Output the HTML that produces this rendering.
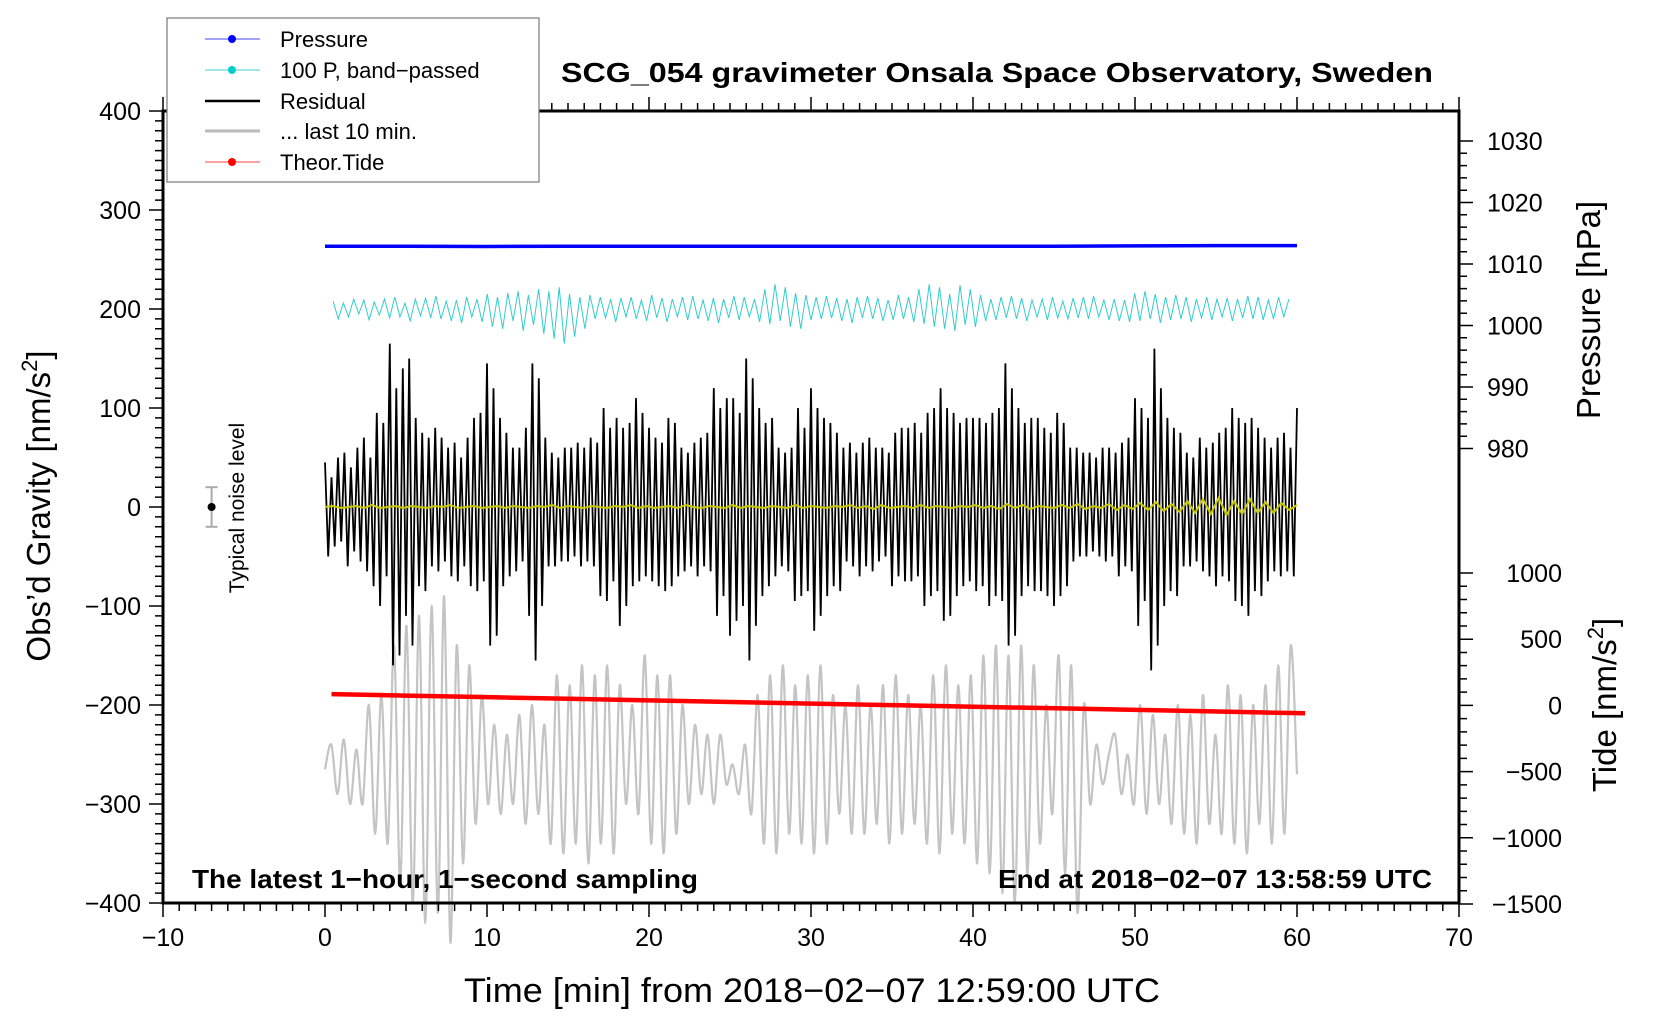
<!DOCTYPE html>
<html><head><meta charset="utf-8"><style>
html,body{margin:0;padding:0;background:#fff;}
svg{display:block;font-family:"Liberation Sans",Arial,sans-serif;}
</style></head><body>
<svg id="chart" width="1660" height="1020" viewBox="0 0 1660 1020">
<g id="marks"></g>
<g id="axes"></g>
<text x="997" y="82" font-size="28" font-weight="bold" text-anchor="middle" textLength="872" lengthAdjust="spacingAndGlyphs">SCG_054 gravimeter Onsala Space Observatory, Sweden</text>
<text x="192" y="888" font-size="26" font-weight="bold" textLength="506" lengthAdjust="spacingAndGlyphs">The latest 1−hour, 1−second sampling</text>
<text x="1432" y="888" font-size="26" font-weight="bold" text-anchor="end" textLength="434" lengthAdjust="spacingAndGlyphs">End at 2018−02−07 13:58:59 UTC</text>
<text x="812" y="1002" font-size="34" text-anchor="middle" textLength="696" lengthAdjust="spacingAndGlyphs">Time [min] from 2018−02−07 12:59:00 UTC</text>
<text transform="translate(50,506) rotate(-90)" font-size="33" text-anchor="middle">Obs’d Gravity [nm/s<tspan font-size="22" dy="-13">2</tspan><tspan dy="13">]</tspan></text>
<text transform="translate(1600,310) rotate(-90)" font-size="33" text-anchor="middle">Pressure [hPa]</text>
<text transform="translate(1616,705) rotate(-90)" font-size="33" text-anchor="middle">Tide [nm/s<tspan font-size="22" dy="-13">2</tspan><tspan dy="13">]</tspan></text>
<text transform="translate(244,508) rotate(-90)" font-size="21" text-anchor="middle">Typical noise level</text>
<g>
<rect x="167" y="18" width="372" height="164" fill="#fff" stroke="#777" stroke-width="1.2"/>
<g><line x1="205" y1="39" x2="260" y2="39" stroke="#44f" stroke-width="1"/><circle cx="232" cy="39" r="4" fill="#00f"/><text x="280" y="47" font-size="22">Pressure</text></g>
<g><line x1="205" y1="70" x2="260" y2="70" stroke="#4cc" stroke-width="1"/><circle cx="232" cy="70" r="4" fill="#0cc"/><text x="280" y="78" font-size="22">100 P, band−passed</text></g>
<g><line x1="205" y1="101" x2="260" y2="101" stroke="#000" stroke-width="2.5"/><text x="280" y="109" font-size="22">Residual</text></g>
<g><line x1="205" y1="131" x2="260" y2="131" stroke="#bbb" stroke-width="3"/><text x="280" y="139" font-size="22">... last 10 min.</text></g>
<g><line x1="205" y1="162" x2="260" y2="162" stroke="#f44" stroke-width="1"/><circle cx="232" cy="162" r="4" fill="#f00"/><text x="280" y="170" font-size="22">Theor.Tide</text></g>
</g>
</svg>
<script>
const xTicks=[-10,0,10,20,30,40,50,60,70];
const gravTicks=[400,300,200,100,0,-100,-200,-300,-400];
const pressTicks=[1030,1020,1010,1000,990,980];
const tideTicks=[1000,500,0,-500,-1000,-1500];
const pressure=[1012.9,1012.9,1012.85,1012.9,1012.9,1012.9,1012.9,1012.9,1012.9,1012.9,1012.95,1013.0,1013.0];
const tide=[85,73,61,49,37,25,13,1,-11,-23,-35,-47,-60];
const noiseBar=[-20,0,20];
const residual=[45,-50,30,-40,50,-35,55,-60,40,-45,60,-55,70,-65,50,-80,95,-100,85,-70,165,-160,120,-150,140,-110,150,-140,90,-80,75,-85,70,-60,80,-65,70,-55,60,-70,65,-75,50,-60,70,-80,90,-85,95,-75,145,-140,120,-130,90,-80,75,-70,60,-65,60,-55,80,-110,145,-155,130,-100,70,-60,55,-60,50,-55,60,-55,60,-50,65,-60,60,-55,70,-60,65,-90,100,-95,80,-75,90,-120,80,-100,85,-80,110,-75,95,-70,80,-75,70,-80,65,-85,90,-80,85,-70,60,-65,55,-60,65,-70,70,-60,75,-65,120,-110,100,-90,110,-130,110,-115,95,-100,150,-155,130,-120,100,-90,85,-80,90,-70,60,-60,55,-65,60,-95,100,-90,80,-85,120,-125,100,-110,90,-90,85,-80,75,-85,60,-55,65,-60,55,-70,65,-60,70,-65,60,-55,60,-50,55,-80,75,-70,80,-75,80,-75,85,-70,75,-100,95,-90,100,-85,120,-115,100,-110,95,-90,85,-80,90,-75,90,-85,90,-80,85,-100,95,-90,100,-95,145,-140,120,-130,100,-90,85,-80,90,-85,90,-85,80,-90,75,-100,95,-90,85,-80,60,-55,60,-50,55,-50,55,-45,50,-50,60,-55,60,-50,55,-70,65,-60,70,-65,110,-120,100,-95,90,-165,160,-140,120,-100,90,-85,80,-90,75,-60,55,-60,50,-55,70,-65,60,-70,65,-80,75,-70,80,-75,100,-95,90,-100,85,-110,90,-85,80,-90,70,-75,60,-65,70,-70,75,-65,60,-70,100];
const smoothed=[0,1,-1,0,1,-1,2,-1,0,1,-1,1,0,-1,1,0,2,-1,0,1,-1,0,1,-1,1,0,-1,1,0,2,-1,1,0,-1,1,0,-1,1,0,2,-1,1,-1,0,1,-1,2,0,-1,1,0,-1,2,-1,1,0,-1,1,0,-1,2,-1,1,0,-1,1,0,2,-1,1,-2,2,-1,0,1,-1,2,-1,1,0,-1,1,0,2,-1,1,-2,3,-1,2,-2,1,0,-1,2,-1,3,-2,1,-1,3,-3,2,-2,4,-3,5,-4,3,-5,6,-6,8,-7,9,-8,6,-7,8,-6,5,-6,4,-3,2];
const bandPassPa=[8,-10,6,-8,10,-5,9,-11,7,-6,10,-9,12,-8,6,-12,10,-7,11,-9,13,-10,8,-12,9,-14,12,-8,10,-13,15,-18,12,-20,16,-12,18,-22,14,-16,20,-25,18,-30,22,-35,15,-28,12,-20,14,-10,12,-9,10,-13,11,-8,12,-10,9,-12,14,-9,11,-13,10,-8,12,-11,13,-10,9,-12,11,-14,10,-9,13,-11,12,-8,10,-13,20,-15,25,-12,22,-18,16,-20,14,-11,12,-10,13,-9,11,-12,10,-14,12,-9,13,-10,11,-12,9,-11,14,-10,12,-13,20,-15,25,-18,22,-20,15,-22,24,-16,20,-18,14,-12,10,-11,12,-9,13,-10,11,-12,9,-8,10,-11,12,-9,8,-10,11,-9,12,-10,13,-8,9,-11,10,-12,9,-13,16,-12,18,-10,15,-14,12,-11,14,-10,12,-13,10,-9,12,-11,10,-8,11,-12,10,-9,13,-10,12,-11,9,-10,12,-8,10];
const lastTen=[-265,-240,-290,-235,-300,-245,-300,-200,-330,-190,-340,-140,-380,-120,-400,-110,-420,-100,-410,-90,-440,-140,-360,-160,-320,-190,-300,-220,-310,-230,-300,-210,-320,-200,-310,-220,-340,-170,-350,-180,-340,-160,-360,-170,-340,-160,-350,-180,-300,-200,-310,-150,-340,-170,-350,-170,-330,-200,-300,-220,-290,-230,-300,-230,-280,-260,-290,-240,-310,-190,-340,-170,-350,-160,-330,-180,-340,-170,-350,-160,-340,-190,-310,-200,-330,-180,-330,-200,-320,-180,-340,-170,-330,-190,-320,-200,-340,-170,-350,-160,-330,-180,-340,-170,-360,-150,-370,-140,-390,-150,-400,-140,-370,-160,-340,-200,-310,-150,-370,-160,-410,-200,-300,-240,-280,-250,-230,-290,-250,-300,-200,-310,-210,-300,-230,-320,-200,-330,-210,-340,-190,-320,-230,-330,-180,-340,-190,-350,-200,-320,-180,-340,-160,-330,-140,-270];

const NS='http://www.w3.org/2000/svg';
const X0=163,X1=1459,Y0=111,Y1=903;
function xs(t){return X0+(t+10)*(X1-X0)/80;}
function yg(g){return Y0+(400-g)*(Y1-Y0)/800;}
function yp(p){return 264-(p-1010)*6.15;}
function yt(v){return 705.4-v*0.1324;}
const marks=document.getElementById('marks');
const axes=document.getElementById('axes');
function mk(tag,attrs,parent){const e=document.createElementNS(NS,tag);for(const k in attrs)e.setAttribute(k,attrs[k]);parent.appendChild(e);return e;}
function pts(vals,t0,t1,yf){return vals.map((v,i)=>[xs(t0+i*(t1-t0)/(vals.length-1)),yf(v)]);}
function series(vals,t0,t1,yf){return pts(vals,t0,t1,yf).map(p=>p[0].toFixed(1)+','+p[1].toFixed(1)).join(' ');}
function smoothPath(P){let d='M'+P[0][0].toFixed(1)+','+P[0][1].toFixed(1);
for(let i=0;i<P.length-1;i++){const p0=P[Math.max(0,i-1)],p1=P[i],p2=P[i+1],p3=P[Math.min(P.length-1,i+2)];
const c1x=p1[0]+(p2[0]-p0[0])/6,c1y=p1[1]+(p2[1]-p0[1])/6,c2x=p2[0]-(p3[0]-p1[0])/6,c2y=p2[1]-(p3[1]-p1[1])/6;
d+=`C${c1x.toFixed(1)},${c1y.toFixed(1)} ${c2x.toFixed(1)},${c2y.toFixed(1)} ${p2[0].toFixed(1)},${p2[1].toFixed(1)}`;}return d;}

let e;
e=mk('path',{d:smoothPath(pts(lastTen,0,60,yg)),fill:'none',stroke:'#c4c4c4','stroke-width':2.2},marks);


e=mk('polyline',{points:series(residual,0,60,yg),fill:'none',stroke:'#000','stroke-width':1.8},marks);


e=mk('polyline',{points:series(smoothed,0,60,yg),fill:'none',stroke:'#c8c800','stroke-width':2},marks);


e=mk('polyline',{points:series(bandPassPa,0.5,59.5,v=>yg(200+v)),fill:'none',stroke:'#33cccc','stroke-width':1},marks);


e=mk('polyline',{points:series(pressure,0,60,yp),fill:'none',stroke:'#0000ff','stroke-width':3.5},marks);


e=mk('polyline',{points:series(tide,0.4,60.5,yt),fill:'none',stroke:'#ff0000','stroke-width':4.5},marks);


const nx=xs(-7);
e=mk('line',{x1:nx,x2:nx,y1:yg(noiseBar[0]),y2:yg(noiseBar[2]),stroke:'#aaa','stroke-width':2},marks);


mk('line',{x1:nx-6,x2:nx+6,y1:yg(noiseBar[0]),y2:yg(noiseBar[0]),stroke:'#aaa','stroke-width':2},marks);
mk('line',{x1:nx-6,x2:nx+6,y1:yg(noiseBar[2]),y2:yg(noiseBar[2]),stroke:'#aaa','stroke-width':2},marks);
e=mk('circle',{cx:nx,cy:yg(noiseBar[1]),r:4,fill:'#000'},marks);



e=mk('rect',{x:X0,y:Y0,width:X1-X0,height:Y1-Y0,fill:'none',stroke:'#000','stroke-width':3},axes);


let tk='';
for(let t=-10;t<=70;t++){const x=xs(t),L=(t%10===0)?14:8;tk+=`M${x},${Y1}v${L}M${x},${Y0}v${-L}`;}
for(let g=-400;g<=400;g+=10){const y=yg(g),L=(g%100===0)?14:8;tk+=`M${X0},${y}h${-L}`;}
for(let p=980;p<=1030;p+=2){const y=yp(p),L=(p%10===0)?14:8;tk+=`M${X1},${y}h${L}`;}
for(let v=-1500;v<=1000;v+=100){const y=yt(v),L=(v%500===0)?14:8;tk+=`M${X1},${y}h${L}`;}
e=mk('path',{d:tk,stroke:'#000','stroke-width':1.5,fill:'none'},axes);


function lab(txt,x,y,anchor){const t=mk('text',{x:x,y:y,'font-size':25,'text-anchor':anchor},axes);t.textContent=txt;return t;}
function fmt(v){return v<0?'−'+Math.abs(v):String(v);}
xTicks.forEach(v=>{const t=lab(fmt(v),xs(v),946,'middle');

});
gravTicks.forEach(v=>{const t=lab(fmt(v),141,yg(v)+9,'end');

});
pressTicks.forEach(v=>{const t=lab(fmt(v),1487,yp(v)+9,'start');

});
tideTicks.forEach(v=>{const t=lab(fmt(v),1562,yt(v)+9,'end');

});
</script>
</body></html>
